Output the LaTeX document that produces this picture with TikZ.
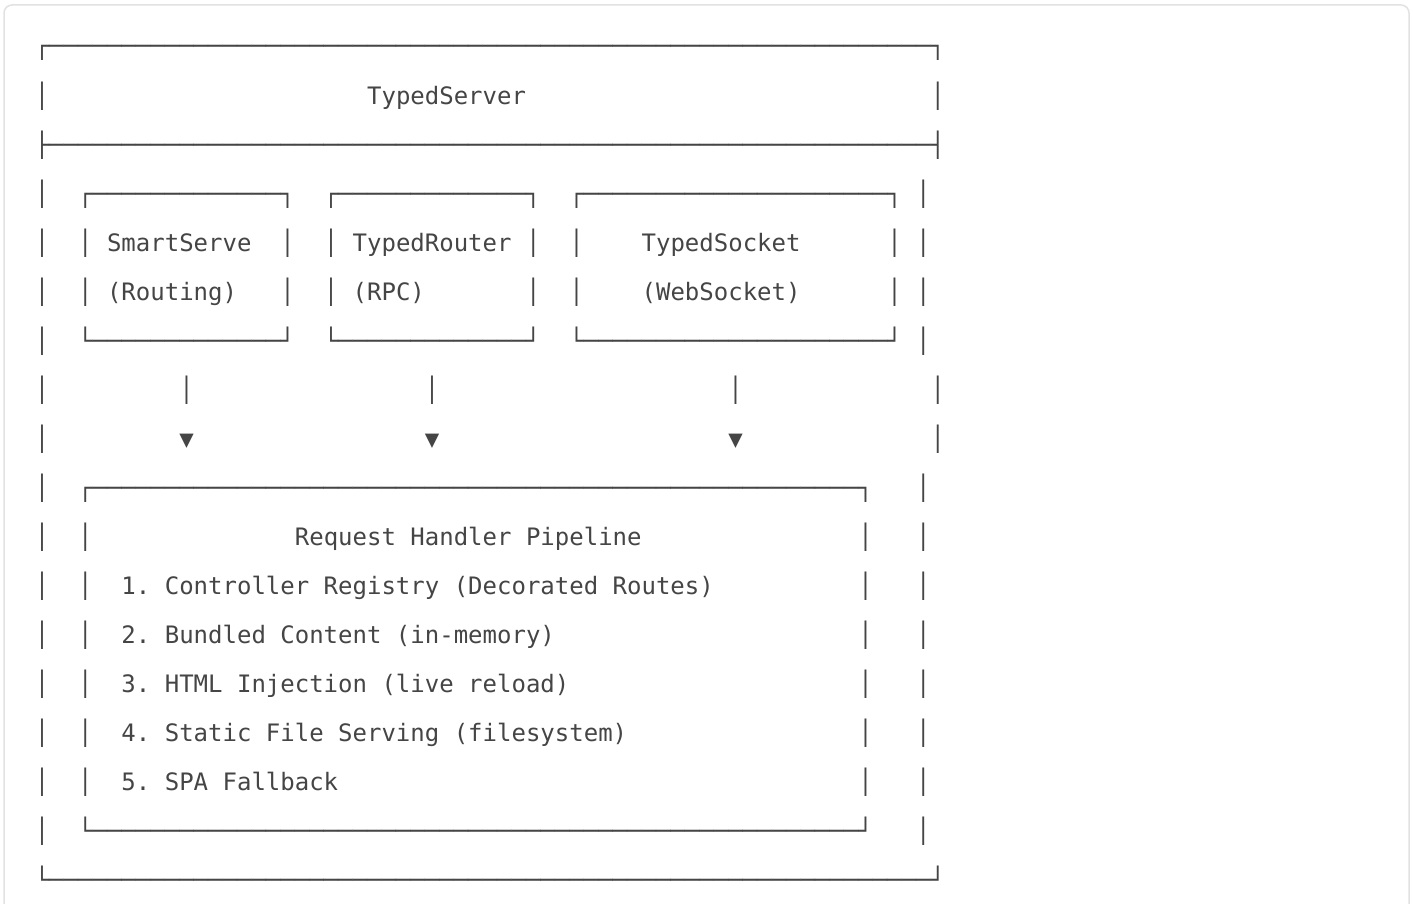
\documentclass[tikz,border=0pt]{standalone}
\usepackage{fontspec}
\newfontfamily\asciifont{DejaVu Sans Mono}
\ExplSyntaxOn
\NewDocumentCommand\Rep{mm}{\prg_replicate:nn{#1}{#2}}
\ExplSyntaxOff
\definecolor{ink}{HTML}{454545}
\definecolor{framegray}{HTML}{E2E2E2}
\newcommand\cw{14.449}
\newcommand\xo{34.78}
\newcommand\yo{55.0}
\newcommand\lh{49.05}
\newcommand\putcell[4]{\node[cell] (#1) at ({\xo+\cw*#2},{-(\yo+\lh*#3)}) {#4};}
\begin{document}
\begin{tikzpicture}[x=1pt,y=1pt,
  cell/.style={anchor=base west, inner sep=0pt, outer sep=0pt, text=ink,
    font=\asciifont\fontsize{24}{24}\selectfont\frenchspacing}]
\useasboundingbox (0,0) rectangle (1413,-904);
\fill[white] (0,0) rectangle (1413,-904);
\draw[framegray, line width=1.5pt, rounded corners=8pt] (4,-5) rectangle (1409,-920);
% line 1
\putcell{top}{0}{0}{┌\Rep{61}{─}┐}
% line 2
\putcell{l2a}{0}{1}{│}
\putcell{title}{23}{1}{TypedServer}
\putcell{l2b}{62}{1}{│}
% line 3
\putcell{sep}{0}{2}{├\Rep{61}{─}┤}
% line 4
\putcell{l4a}{0}{3}{│}
\putcell{b1top}{3}{3}{┌\Rep{13}{─}┐}
\putcell{b2top}{20}{3}{┌\Rep{13}{─}┐}
\putcell{b3top}{37}{3}{┌\Rep{21}{─}┐}
\putcell{l4b}{61}{3}{│}
% line 5
\putcell{l5a}{0}{4}{│}
\putcell{l5b}{3}{4}{│}
\putcell{smart}{5}{4}{SmartServe}
\putcell{l5c}{17}{4}{│}
\putcell{l5d}{20}{4}{│}
\putcell{router}{22}{4}{TypedRouter}
\putcell{l5e}{34}{4}{│}
\putcell{l5f}{37}{4}{│}
\putcell{socket}{42}{4}{TypedSocket}
\putcell{l5g}{59}{4}{│}
\putcell{l5h}{61}{4}{│}
% line 6
\putcell{l6a}{0}{5}{│}
\putcell{l6b}{3}{5}{│}
\putcell{routing}{5}{5}{(Routing)}
\putcell{l6c}{17}{5}{│}
\putcell{l6d}{20}{5}{│}
\putcell{rpc}{22}{5}{(RPC)}
\putcell{l6e}{34}{5}{│}
\putcell{l6f}{37}{5}{│}
\putcell{ws}{42}{5}{(WebSocket)}
\putcell{l6g}{59}{5}{│}
\putcell{l6h}{61}{5}{│}
% line 7
\putcell{l7a}{0}{6}{│}
\putcell{b1bot}{3}{6}{└\Rep{13}{─}┘}
\putcell{b2bot}{20}{6}{└\Rep{13}{─}┘}
\putcell{b3bot}{37}{6}{└\Rep{21}{─}┘}
\putcell{l7b}{61}{6}{│}
% line 8
\putcell{l8a}{0}{7}{│}
\putcell{s1}{10}{7}{│}
\putcell{s2}{27}{7}{│}
\putcell{s3}{48}{7}{│}
\putcell{l8b}{62}{7}{│}
% line 9
\putcell{l9a}{0}{8}{│}
\putcell{a1}{10}{8}{▼}
\putcell{a2}{27}{8}{▼}
\putcell{a3}{48}{8}{▼}
\putcell{l9b}{62}{8}{│}
% line 10
\putcell{l10a}{0}{9}{│}
\putcell{ptop}{3}{9}{┌\Rep{53}{─}┐}
\putcell{l10b}{61}{9}{│}
% line 11
\putcell{l11a}{0}{10}{│}
\putcell{l11b}{3}{10}{│}
\putcell{ptitle}{18}{10}{Request Handler Pipeline}
\putcell{l11c}{57}{10}{│}
\putcell{l11d}{61}{10}{│}
% lines 12-16
\putcell{l12a}{0}{11}{│}
\putcell{l12b}{3}{11}{│}
\putcell{i1}{6}{11}{1. Controller Registry (Decorated Routes)}
\putcell{l12c}{57}{11}{│}
\putcell{l12d}{61}{11}{│}
\putcell{l13a}{0}{12}{│}
\putcell{l13b}{3}{12}{│}
\putcell{i2}{6}{12}{2. Bundled Content (in-memory)}
\putcell{l13c}{57}{12}{│}
\putcell{l13d}{61}{12}{│}
\putcell{l14a}{0}{13}{│}
\putcell{l14b}{3}{13}{│}
\putcell{i3}{6}{13}{3. HTML Injection (live reload)}
\putcell{l14c}{57}{13}{│}
\putcell{l14d}{61}{13}{│}
\putcell{l15a}{0}{14}{│}
\putcell{l15b}{3}{14}{│}
\putcell{i4}{6}{14}{4. Static File Serving (filesystem)}
\putcell{l15c}{57}{14}{│}
\putcell{l15d}{61}{14}{│}
\putcell{l16a}{0}{15}{│}
\putcell{l16b}{3}{15}{│}
\putcell{i5}{6}{15}{5. SPA Fallback}
\putcell{l16c}{57}{15}{│}
\putcell{l16d}{61}{15}{│}
% line 17
\putcell{l17a}{0}{16}{│}
\putcell{pbot}{3}{16}{└\Rep{53}{─}┘}
\putcell{l17b}{61}{16}{│}
% line 18
\putcell{bot}{0}{17}{└\Rep{61}{─}┘}
\end{tikzpicture}
\end{document}
